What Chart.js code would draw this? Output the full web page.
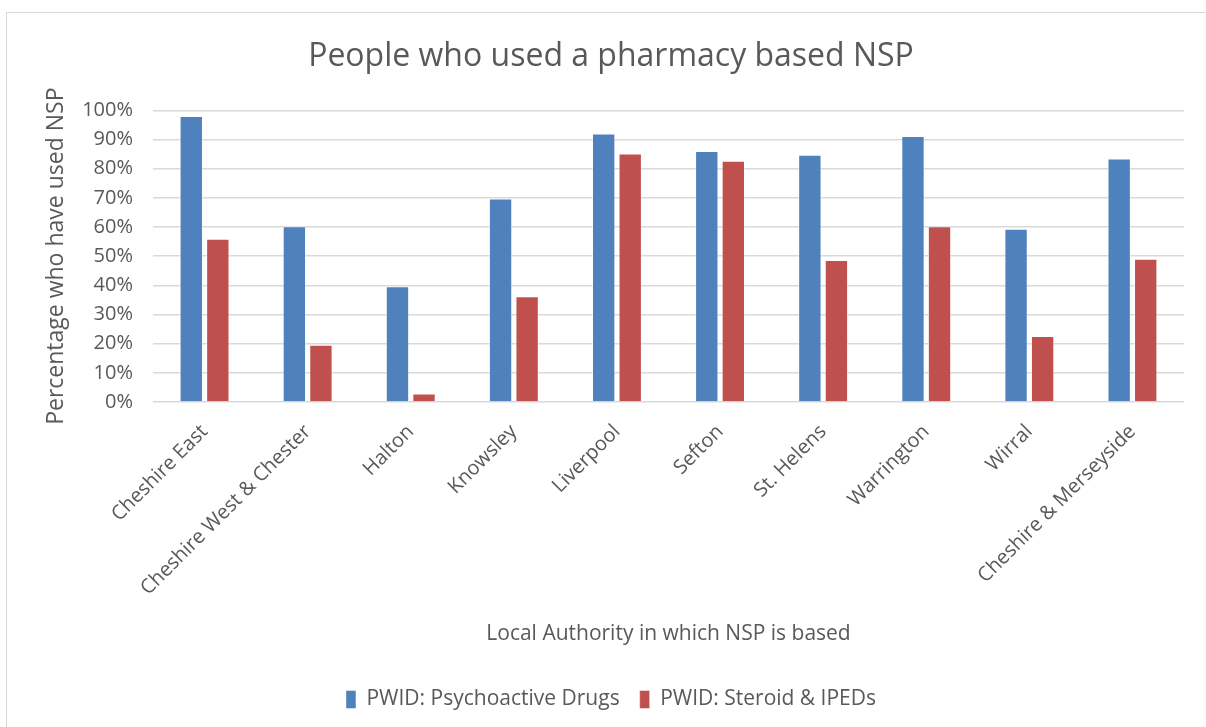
<!DOCTYPE html>
<html>
<head>
<meta charset="utf-8">
<script src="https://cdn.jsdelivr.net/npm/chart.js@4/dist/chart.umd.min.js"></script>
<style>
  html, body { margin: 0; padding: 0; background: #fff; }
  canvas { display: block; }
</style>
</head>
<body>
<canvas id="chart" width="1206" height="727"></canvas>
<script>
const categories = [
  "Cheshire East", "Cheshire West & Chester", "Halton", "Knowsley", "Liverpool",
  "Sefton", "St. Helens", "Warrington", "Wirral", "Cheshire & Merseyside"
];
const psychoactive = [0.981, 0.603, 0.397, 0.698, 0.921, 0.861, 0.848, 0.912, 0.594, 0.835];
const steroids = [0.560, 0.196, 0.029, 0.363, 0.852, 0.827, 0.487, 0.603, 0.226, 0.491];
const seriesNames = ["PWID: Psychoactive Drugs", "PWID: Steroid & IPEDs"];

const textColor = "#595959";
const fontFamily = "'Open Sans', 'DejaVu Sans', sans-serif";

// light frame around the chart, like the exported Excel chart
const framePlugin = {
  id: "frame",
  beforeDraw(chart) {
    const ctx = chart.ctx;
    ctx.save();
    ctx.fillStyle = "#fff";
    ctx.fillRect(0, 0, chart.width, chart.height);
    ctx.strokeStyle = "#d9d9d9";
    ctx.lineWidth = 1;
    ctx.strokeRect(6.5, 12.5, chart.width + 20, chart.height + 20);
    ctx.restore();
  }
};

new Chart(document.getElementById("chart"), {
  type: "bar",
  data: {
    labels: categories,
    datasets: [
      {
        label: seriesNames[0],
        data: psychoactive,
        backgroundColor: "#4f81bd",
        borderColor: "rgba(255,255,255,0.45)",
        borderWidth: 1
      },
      {
        label: seriesNames[1],
        data: steroids,
        backgroundColor: "#c0504d",
        borderColor: "rgba(255,255,255,0.45)",
        borderWidth: 1
      }
    ]
  },
  options: {
    responsive: false,
    animation: false,
    layout: { padding: { left: 38, right: 22, top: 0, bottom: 7 } },
    datasets: {
      bar: { categoryPercentage: 0.515, barPercentage: 0.88 }
    },
    plugins: {
      title: {
        display: true,
        text: "People who used a pharmacy based NSP",
        color: textColor,
        font: { family: fontFamily, size: 32, weight: "normal" },
        padding: { top: 38, bottom: 34 }
      },
      legend: {
        position: "bottom",
        labels: {
          color: textColor,
          font: { family: fontFamily, size: 21 },
          boxWidth: 10,
          boxHeight: 18,
          padding: 20
        }
      },
      tooltip: { enabled: false }
    },
    scales: {
      x: {
        grid: { display: false },
        border: { display: false },
        ticks: {
          color: textColor,
          font: { family: fontFamily, size: 20 },
          maxRotation: 45,
          minRotation: 45,
          padding: 10
        },
        title: {
          display: true,
          text: "Local Authority in which NSP is based",
          color: textColor,
          font: { family: fontFamily, size: 21 },
          padding: { top: 0, bottom: 22 }
        },
        afterFit(scale) { scale.height = 267; }
      },
      y: {
        min: 0,
        max: 1,
        grid: { color: "#d9d9d9", lineWidth: 1.5, drawTicks: false },
        border: { display: false },
        ticks: {
          stepSize: 0.1,
          color: textColor,
          font: { family: fontFamily, size: 20 },
          padding: 20,
          callback: (v) => Math.round(v * 100) + "%"
        },
        title: {
          display: true,
          text: "Percentage who have used NSP",
          color: textColor,
          font: { family: fontFamily, size: 23 },
          padding: { top: 5, bottom: 0 }
        },
        afterFit(scale) { scale.width = 115; }
      }
    }
  },
  plugins: [framePlugin]
});
</script>
</body>
</html>
